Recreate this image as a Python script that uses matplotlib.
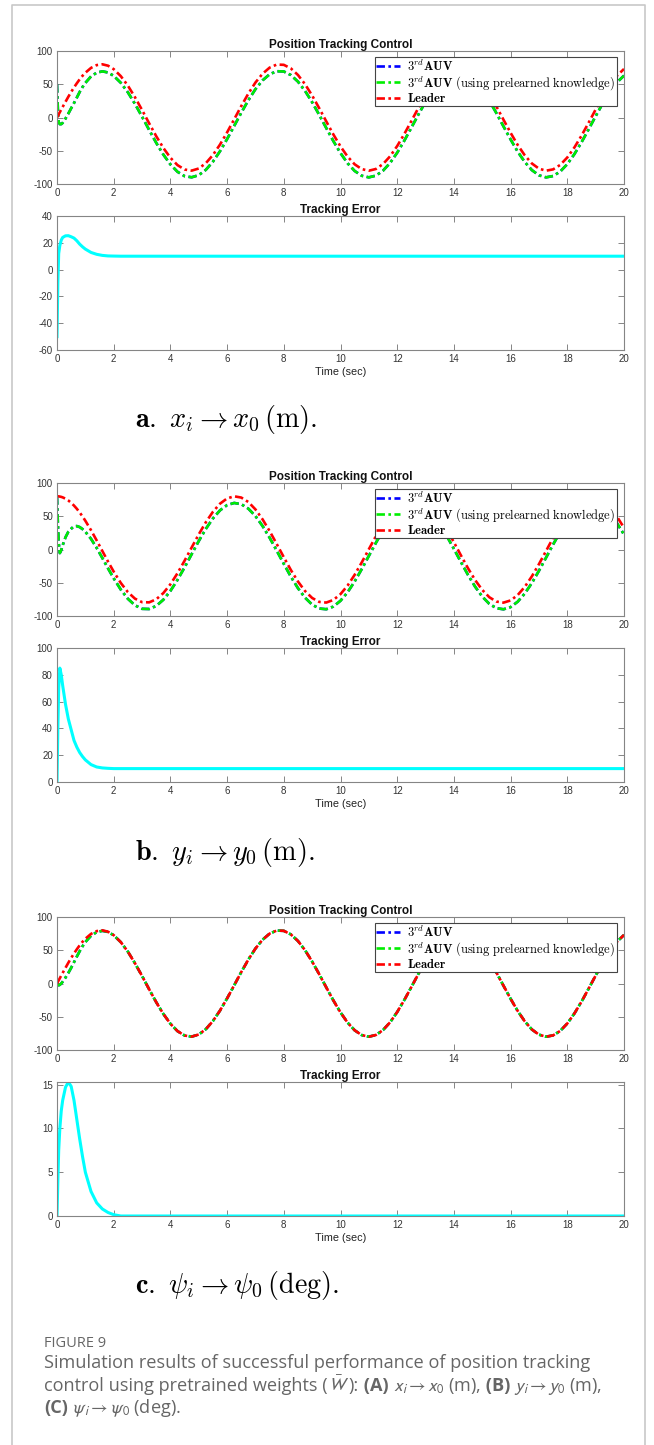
import numpy as np
import matplotlib
matplotlib.use('Agg')
import matplotlib.pyplot as plt
from matplotlib.lines import Line2D

plt.rcParams['mathtext.fontset'] = 'cm'
plt.rcParams['font.family'] = ['Liberation Sans', 'DejaVu Sans']
plt.rcParams['axes.unicode_minus'] = False

# ---------------- data ----------------
T_EARLY = [0, 0.03, 0.06, 0.1, 0.15, 0.2, 0.3, 0.4, 0.5, 0.6, 0.7, 0.8, 0.9,
           1.0, 1.2, 1.4, 1.6, 1.8, 2.0]
T_LATE = list(np.arange(2.25, 20.001, 0.25))
TIME = np.array(T_EARLY + T_LATE)

# leader trajectory for x and psi (same shape), starting at 0
LEADER_SIN = [0.0, 2.4, 4.8, 8.0, 12.0, 15.9, 23.6, 31.2, 38.4, 45.2, 51.5, 57.4, 62.7,
              67.3, 74.6, 78.8, 80.0, 77.9, 72.7,
              62.2, 47.9, 30.5, 11.3, -8.7, -28.1, -45.7, -60.5, -71.6, -78.2, -79.9,
              -76.7, -68.7, -56.4, -40.7, -22.4, -2.7, 17.2, 36.0, 52.6, 65.8, 75.0,
              79.6, 79.2, 73.8, 63.9, 50.0, 33.0, 13.9, -6.0, -25.6, -43.5, -58.8,
              -70.4, -77.6, -80.0, -77.4, -70.0, -58.3, -42.9, -24.9, -5.3, 14.6, 33.6,
              50.5, 64.3, 74.1, 79.2, 79.5, 74.8, 65.4, 52.0, 35.4, 16.5, -3.4, -23.0,
              -41.3, -56.9, -69.1, -76.9, -80.0, -78.0, -71.3, -60.1, -45.1, -27.4,
              -8.0, 12.0, 31.2, 48.4, 62.7, 73.0]
# leader trajectory for y, starting at 80
LEADER_COS = [80.0, 80.0, 79.9, 79.6, 79.1, 78.4, 76.4, 73.7, 70.2, 66.0, 61.2, 55.7, 49.7,
              43.2, 29.0, 13.6, -2.3, -18.2, -33.3,
              -50.3, -64.1, -73.9, -79.2, -79.5, -74.9, -65.6, -52.3, -35.7, -16.9, 3.0,
              22.7, 41.0, 56.7, 68.9, 76.8, 80.0, 78.1, 71.4, 60.3, 45.4, 27.7, 8.3,
              -11.6, -30.9, -48.2, -62.5, -72.9, -78.8, -79.8, -75.8, -67.1, -54.3,
              -38.0, -19.4, 0.4, 20.1, 38.7, 54.8, 67.5, 76.0, 79.8, 78.7, 72.6, 62.0,
              47.6, 30.2, 10.9, -9.0, -28.4, -46.0, -60.8, -71.8, -78.3, -79.9, -76.6,
              -68.5, -56.2, -40.4, -22.0, -2.3, 17.6, 36.3, 52.8, 66.0, 75.2, 79.6,
              79.1, 73.7, 63.7, 49.7, 32.6]

# tracking errors during the transient (on T_EARLY) and their steady values
ERR_X = [-50, -10, 12, 18, 22, 24, 25.2, 25.3, 24.5, 23.5, 21.5, 19, 17, 15.3,
         12.8, 11.4, 10.6, 10.2, 10.1]
ERR_X_STEADY = 10
ERR_Y = [0, 40, 70, 85, 80, 72, 58, 47, 39, 31, 26, 22, 19, 16.5, 13, 11.2, 10.5,
         10.2, 10.0]
ERR_Y_STEADY = 10
ERR_PSI = [0, 4, 7.5, 10, 12, 13.2, 14.7, 15.3, 14.8, 13.2, 11, 8.8, 6.8, 5.0,
           2.8, 1.5, 0.8, 0.4, 0.15]
ERR_PSI_STEADY = 0

LEGEND_LABELS = [r"$3^{rd}\mathbf{AUV}$",
                 r"$3^{rd}\mathbf{AUV}\ \mathrm{(using\ prelearned\ knowledge)}$",
                 r"$\mathbf{Leader}$"]
XTICKS = [0, 2, 4, 6, 8, 10, 12, 14, 16, 18, 20]
POS_YTICKS = [-100, -50, 0, 50, 100]

PANELS = [
    dict(leader=LEADER_SIN, err=ERR_X, steady=ERR_X_STEADY, elim=(-60, 40),
         eticks=[-60, -40, -20, 0, 20, 40],
         caption=r"$\mathbf{a.}\ x_i \rightarrow x_0\,(\mathrm{m}).$"),
    dict(leader=LEADER_COS, err=ERR_Y, steady=ERR_Y_STEADY, elim=(0, 100),
         eticks=[0, 20, 40, 60, 80, 100],
         caption=r"$\mathbf{b.}\ y_i \rightarrow y_0\,(\mathrm{m}).$"),
    dict(leader=LEADER_SIN, err=ERR_PSI, steady=ERR_PSI_STEADY, elim=(0, 15.3),
         eticks=[0, 5, 10, 15],
         caption=r"$\mathbf{c.}\ \psi_i \rightarrow \psi_0\,(\mathrm{deg}).$"),
]

# ---------------- layout ----------------
W, H = 654, 1445
fig = plt.figure(figsize=(W / 100, H / 100), dpi=100)


def rect(x0, y0, x1, y1):
    return [x0 / W, 1 - y1 / H, (x1 - x0) / W, (y1 - y0) / H]


SPINE = '#858585'
TICKC = '#333333'
DASH = (0, (3.2, 1.3, 1.0, 1.3))


def style(ax):
    for s in ax.spines.values():
        s.set_color(SPINE)
        s.set_linewidth(0.8)
    ax.tick_params(direction='in', length=4, width=0.7, color=SPINE,
                   labelcolor=TICKC, labelsize=7, top=True, right=True, pad=3)
    ax.set_xlim(0, 20)
    ax.set_xticks(XTICKS)


AX_L, AX_R = 57, 624
TOPS = [51, 483, 917]
for k, p in enumerate(PANELS):
    top = TOPS[k]
    ax1 = fig.add_axes(rect(AX_L, top, AX_R, top + 133))
    ax2 = fig.add_axes(rect(AX_L, top + 165, AX_R, top + 299))
    style(ax1)
    style(ax2)

    leader = np.array(p['leader'])
    err_full = np.array(list(p['err']) + [p['steady']] * len(T_LATE), dtype=float)
    follower = leader - err_full

    l1, = ax1.plot(TIME, follower, color='#0000ff', ls=DASH, lw=1.9)
    l2, = ax1.plot(TIME, follower, color='#00ee00', ls=DASH, lw=1.9)
    l3, = ax1.plot(TIME, leader, color='#ff0000', ls=DASH, lw=1.9)
    ax1.set_ylim(-100, 100)
    ax1.set_yticks(POS_YTICKS)
    ax1.set_title('Position Tracking Control', fontsize=8.5, fontweight='bold',
                  pad=2.5, color='#111111')
    leg = ax1.legend([l1, l2, l3], LEGEND_LABELS, loc='upper right',
                     bbox_to_anchor=(0.9877, 0.955), borderaxespad=0,
                     fontsize=9.0, frameon=True, fancybox=False,
                     edgecolor='#444444', framealpha=1, handlelength=1.9,
                     handletextpad=0.6, labelspacing=0.02, borderpad=0.12)
    leg.get_frame().set_linewidth(0.8)

    ax2.plot(TIME, err_full, color='#00ffff', lw=2.2)
    ax2.set_ylim(*p['elim'])
    ax2.set_yticks(p['eticks'])
    ax2.set_title('Tracking Error', fontsize=8.5, fontweight='bold', pad=2.5,
                  color='#111111')
    ax2.set_xlabel('Time (sec)', fontsize=7.8, labelpad=2, color='#222222')

    fig.text(135 / W, 1 - (top + 369) / H, p['caption'], fontsize=20.3,
             ha='left', va='center', color='black')

# outer frame
fig.add_artist(Line2D([12 / W, 12 / W, 645 / W, 645 / W], [0, 1 - 5 / H, 1 - 5 / H, 0],
                      transform=fig.transFigure, color='#c8c8c8', lw=1.2))

# figure caption
CAPC = '#666666'
FAM = ['Open Sans', 'DejaVu Sans']
fig.text(44 / W, 1 - 1347 / H, 'FIGURE 9', fontsize=10.5, family=FAM, color=CAPC,
         va='baseline')

renderer = fig.canvas.get_renderer()


def rich_line(pieces, x_px, y_px, size=13.1):
    x = x_px
    for txt, weight in pieces:
        t = fig.text(x / W, 1 - y_px / H, txt, fontsize=size, fontweight=weight,
                     family=FAM, color=CAPC, va='baseline', ha='left',
                     math_fontfamily='stixsans')
        bb = t.get_window_extent(renderer)
        x = bb.x1


rich_line([('Simulation results of successful performance of position tracking', 'normal')],
          44, 1368)
rich_line([('control using pretrained weights (', 'normal'), (r'$\bar{W}$', 'normal'),
           ('):', 'normal'), (' (A)', 'bold'), (r' $x_i \rightarrow x_0$ (m),', 'normal'),
           (' (B)', 'bold'), (r' $y_i \rightarrow y_0$ (m),', 'normal')], 44, 1391)
rich_line([('(C)', 'bold'), (r' $\psi_i \rightarrow \psi_0$ (deg).', 'normal')], 44, 1413)

fig.savefig('out.png', dpi=100)
